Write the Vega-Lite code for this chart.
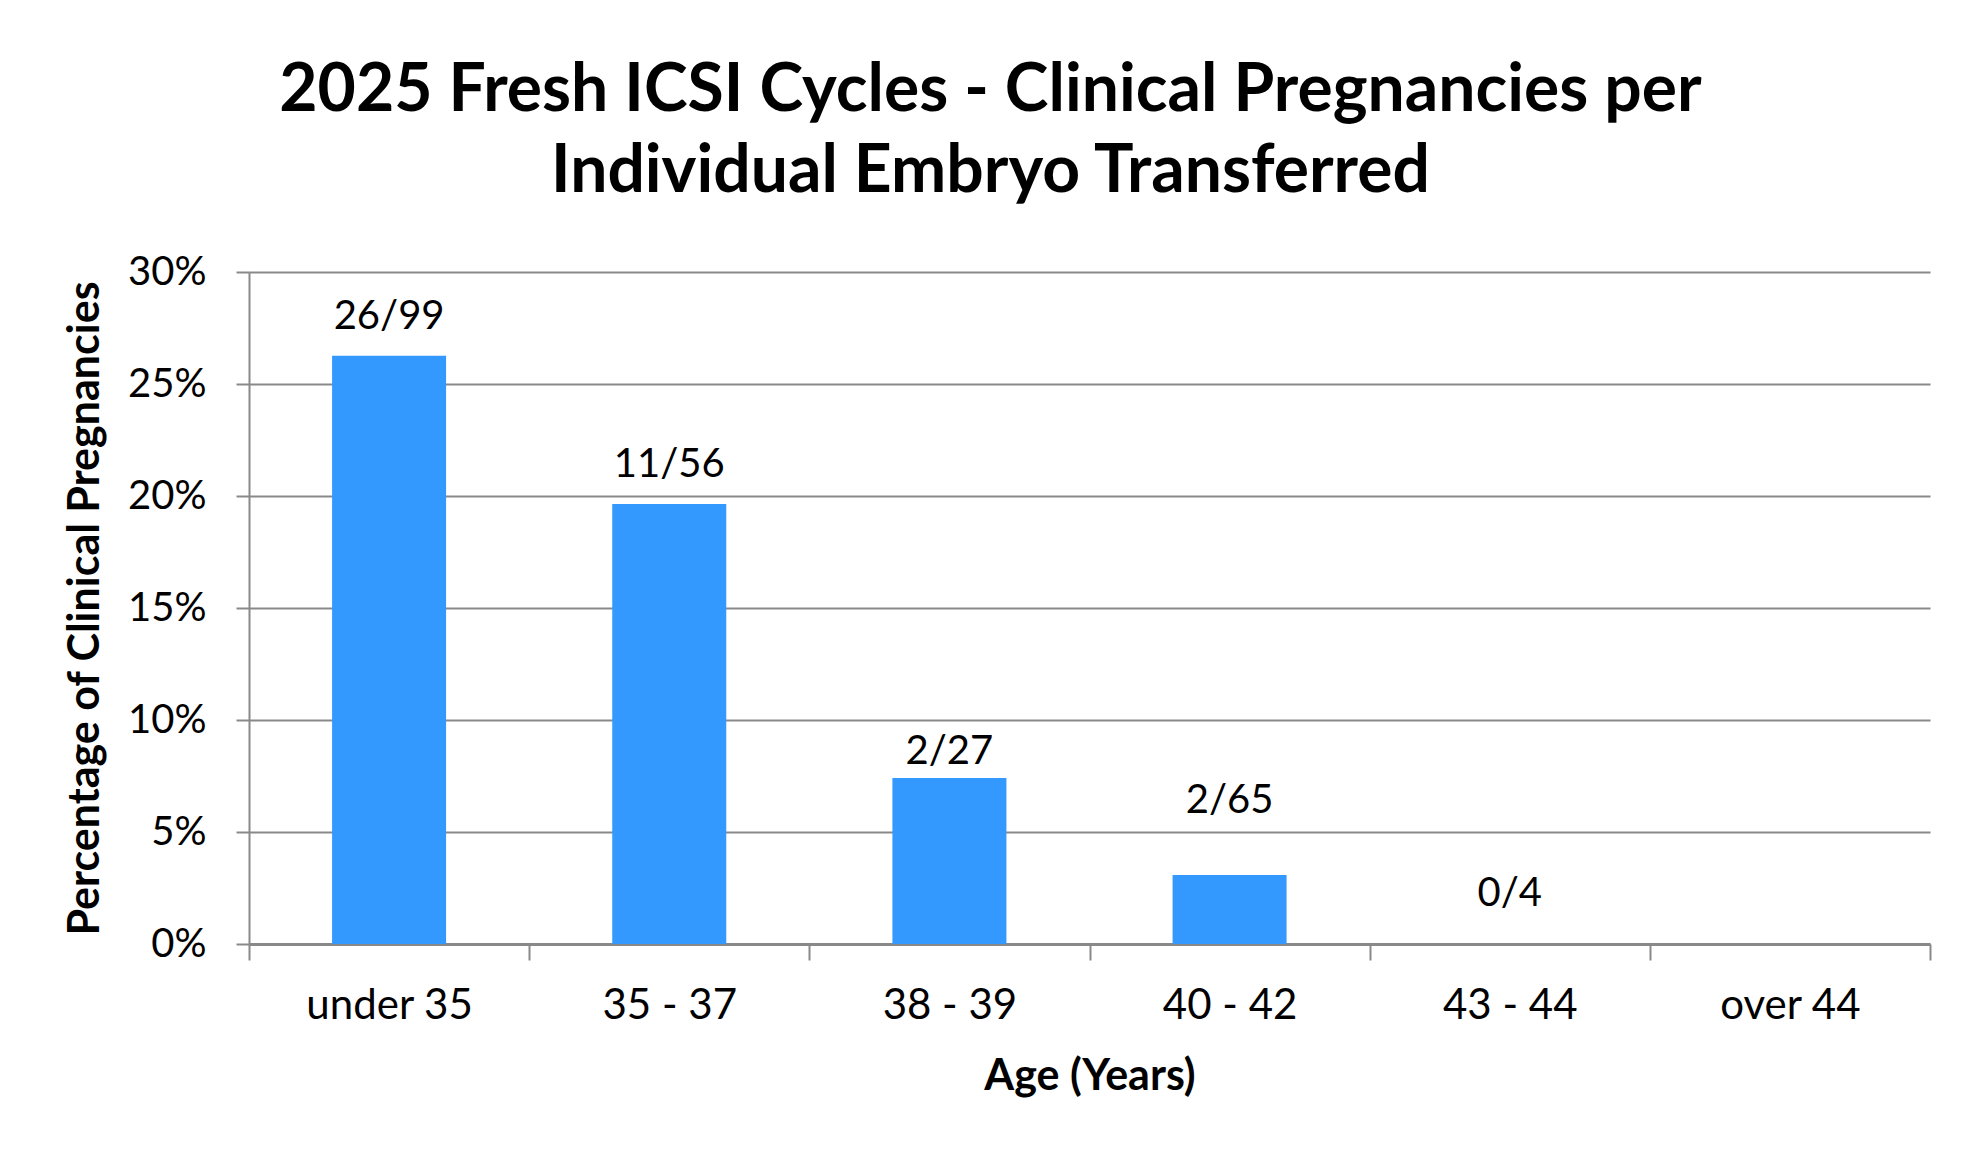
{
  "$schema": "https://vega.github.io/schema/vega-lite/v6.json",
  "autosize": "none",
  "width": 1681,
  "height": 672,
  "padding": {"left": 249, "top": 272, "right": 52, "bottom": 214},
  "background": "white",
  "title": {
    "text": ["2025 Fresh ICSI Cycles - Clinical Pregnancies per", "Individual Embryo Transferred"],
    "font": "Lato",
    "fontWeight": "bold",
    "fontSize": 66,
    "lineHeight": 81,
    "color": "black",
    "anchor": "middle",
    "dx": -99,
    "offset": 46
  },
  "data": {
    "values": [
      {"age": "under 35", "pct": 0.2626, "label": "26/99"},
      {"age": "35 - 37", "pct": 0.1964, "label": "11/56"},
      {"age": "38 - 39", "pct": 0.0741, "label": "2/27"},
      {"age": "40 - 42", "pct": 0.0308, "label": "2/65"},
      {"age": "43 - 44", "pct": 0, "label": "0/4"},
      {"age": "over 44", "pct": null, "label": ""}
    ]
  },
  "encoding": {
    "x": {
      "field": "age",
      "type": "nominal",
      "sort": null,
      "scale": {"domain": ["under 35", "35 - 37", "38 - 39", "40 - 42", "43 - 44", "over 44"], "paddingInner": 0, "paddingOuter": 0},
      "axis": {
        "title": "Age (Years)",
        "labelAngle": 0,
        "labelFont": "Lato",
        "labelFontSize": 42,
        "labelColor": "black",
        "labelPadding": 25,
        "tickBand": "extent",
        "tickSize": 16,
        "tickWidth": 2,
        "tickColor": "#898989",
        "domainColor": "#898989",
        "domainWidth": 3,
        "titleFont": "Lato",
        "titleFontWeight": "bold",
        "titleFontSize": 43,
        "titleColor": "black",
        "titlePadding": 29
      }
    },
    "y": {
      "field": "pct",
      "type": "quantitative",
      "scale": {"domain": [0, 0.3], "nice": false},
      "axis": {
        "title": "Percentage of Clinical Pregnancies",
        "format": ".0%",
        "values": [0, 0.05, 0.1, 0.15, 0.2, 0.25, 0.3],
        "labelFont": "Lato",
        "labelFontSize": 40,
        "labelColor": "black",
        "labelPadding": 30,
        "tickSize": 13,
        "tickWidth": 2,
        "tickColor": "#898989",
        "domainColor": "#898989",
        "domainWidth": 2,
        "gridColor": "#898989",
        "gridWidth": 2,
        "titleFont": "Lato",
        "titleFontWeight": "bold",
        "titleFontSize": 43,
        "titleColor": "black",
        "titlePadding": 20
      }
    }
  },
  "layer": [
    {
      "mark": {"type": "bar", "size": 114, "color": "#3399FF"}
    },
    {
      "transform": [{"filter": "datum.label == '26/99' || datum.label == '11/56'"}],
      "mark": {"type": "text", "font": "Lato", "fontSize": 40, "color": "black", "baseline": "alphabetic", "dy": -27},
      "encoding": {"text": {"field": "label"}}
    },
    {
      "transform": [{"filter": "datum.label == '2/27'"}],
      "mark": {"type": "text", "font": "Lato", "fontSize": 40, "color": "black", "baseline": "alphabetic", "dy": -14},
      "encoding": {"text": {"field": "label"}}
    },
    {
      "transform": [{"filter": "datum.label == '2/65'"}],
      "mark": {"type": "text", "font": "Lato", "fontSize": 40, "color": "black", "baseline": "alphabetic", "dy": -62},
      "encoding": {"text": {"field": "label"}}
    },
    {
      "transform": [{"filter": "datum.label == '0/4'"}],
      "mark": {"type": "text", "font": "Lato", "fontSize": 40, "color": "black", "baseline": "alphabetic", "dy": -38},
      "encoding": {"text": {"field": "label"}}
    }
  ],
  "config": {"view": {"stroke": null}}
}
